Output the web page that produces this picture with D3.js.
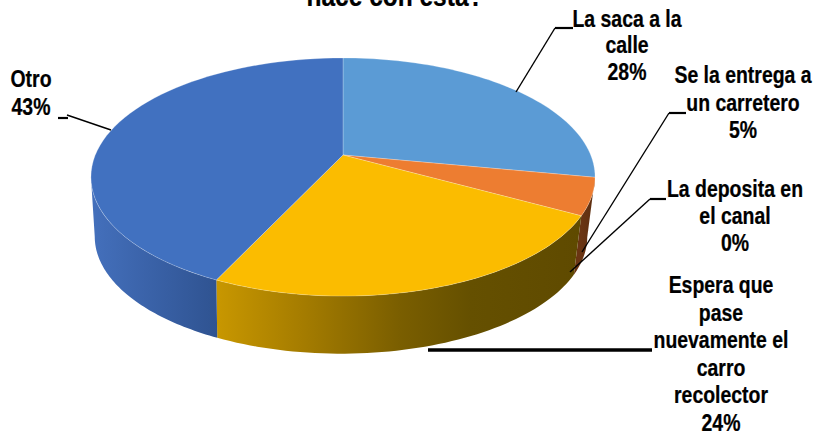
<!DOCTYPE html>
<html><head><meta charset="utf-8"><script src="https://cdn.jsdelivr.net/npm/d3@7"></script>
<style>html,body{margin:0;background:#fff}svg{display:block}text{font-family:"Liberation Sans",Arial,sans-serif;font-weight:bold;fill:#000;stroke:#000;stroke-width:.25}</style></head><body><script>
const categories = ["La saca a la calle","Se la entrega a un carretero","La deposita en el canal","Espera que pase nuevamente el carro recolector","Otro"];
const values = [28,5,0,24,43];
const colors = ["#5b9bd5","#ed7d31","#a5a5a5","#fbbc00","#4171c0"];
const titleText = "hace con esta?";
const labelLines = [
 ["La saca a la","calle","28%"],
 ["Se la entrega a","un carretero","5%"],
 ["La deposita en","el canal","0%"],
 ["Espera que","pase","nuevamente el","carro","recolector","24%"],
 ["Otro","43%"]];

const W=817,H=435;
// layout (separate from data)
const labelPos=[[627,27,26.3],[743,83,27.5],[735,197,27],[721,293,27.6],[31,87,28]];
const leaders=[
 {diag:[[516,92],[555,28]],tick:[[555,28],[573,28]]},
 {diag:[[582,252],[669,113]],tick:[[669,113],[686,113]]},
 {diag:[[570,272],[650,199]],tick:[[650,199],[666,199]]},
 {diag:[],tick:[[428,350],[652,350]],heavy:true},
 {diag:[[111,130],[67,115]],tick:[[58,118],[68,118]]}];
const sideStops=[
 [[590,"#5a3a20"],[596,"#5a3a20"]],
 [[581,"#6a3513"],[595,"#5c2e10"]],
 [[581,"#6a3513"],[595,"#5c2e10"]],
 [[217,"#c89700"],[300,"#a67d00"],[400,"#7a5e00"],[470,"#655000"],[580,"#5f4a00"]],
 [[91,"#4470bc"],[150,"#3a62a8"],[217,"#2f5391"]]];

// perspective projection of the pie disc
const k=0.185;
const proj=(a,top)=>{
  const u=Math.sin(a),v=Math.cos(a),w=1+k*v;
  return top?[343+247.7*u/w,155-115*v/w]:[341+242*u/w,215-113*v/w];
};
// front-facing angular range of the rim, between the two silhouette tangents
const frontStart=Math.acos(-k), frontEnd=2*Math.PI-frontStart;
const pie=d3.pie().sort(null).value(d=>d)(values);
const arcPts=(a0,a1,top)=>d3.range(0,61).map(i=>proj(a0+(a1-a0)*i/60,top));
const line=d3.line();

const svg=d3.select("body").append("svg").attr("width",W).attr("height",H);
const defs=svg.append("defs");
sideStops.forEach((s,i)=>{
  const g=defs.append("linearGradient").attr("id","side"+i).attr("gradientUnits","userSpaceOnUse")
    .attr("x1",s[0][0]).attr("x2",s[s.length-1][0]).attr("y1",0).attr("y2",0);
  s.forEach(st=>g.append("stop").attr("offset",(st[0]-s[0][0])/(s[s.length-1][0]-s[0][0])).attr("stop-color",st[1]));
});
// sides, then top faces
const sides=pie.map(d=>({index:d.index,a0:Math.max(d.startAngle,frontStart),a1:Math.min(d.endAngle,frontEnd)})).filter(d=>d.a1>d.a0);
svg.append("g").selectAll("path").data(sides).join("path")
  .attr("d",d=>line([...arcPts(d.a0,d.a1,true),...arcPts(d.a0,d.a1,false).reverse()])+"Z")
  .attr("fill",d=>`url(#side${d.index})`);
svg.append("g").selectAll("path").data(pie.filter(d=>d.value>0)).join("path")
  .attr("d",d=>line([[343,155],...arcPts(d.startAngle,d.endAngle,true)])+"Z")
  .attr("fill",d=>colors[d.index]).attr("stroke","#fff").attr("stroke-opacity",.35).attr("stroke-width",.7);

// leaders
const lg=svg.append("g").attr("fill","none").attr("stroke","#000");
leaders.forEach(l=>{
  if(l.diag.length) lg.append("path").attr("d",line(l.diag)).attr("stroke-width",1.4);
  lg.append("path").attr("d",line(l.tick)).attr("stroke-width",l.heavy?3.6:2.2);
});

// labels
const sx=0.845;
labelLines.forEach((ls,i)=>{
  const [cx,by,dy]=labelPos[i];
  ls.forEach((t,j)=>svg.append("text").attr("transform",`translate(${cx},${by+j*dy}) scale(${sx},1)`)
    .attr("text-anchor","middle").attr("font-size",23).text(t));
});
svg.append("text").attr("transform",`translate(395,6) scale(${sx},1)`).attr("text-anchor","middle").attr("font-size",29).text(titleText);
</script></body></html>
